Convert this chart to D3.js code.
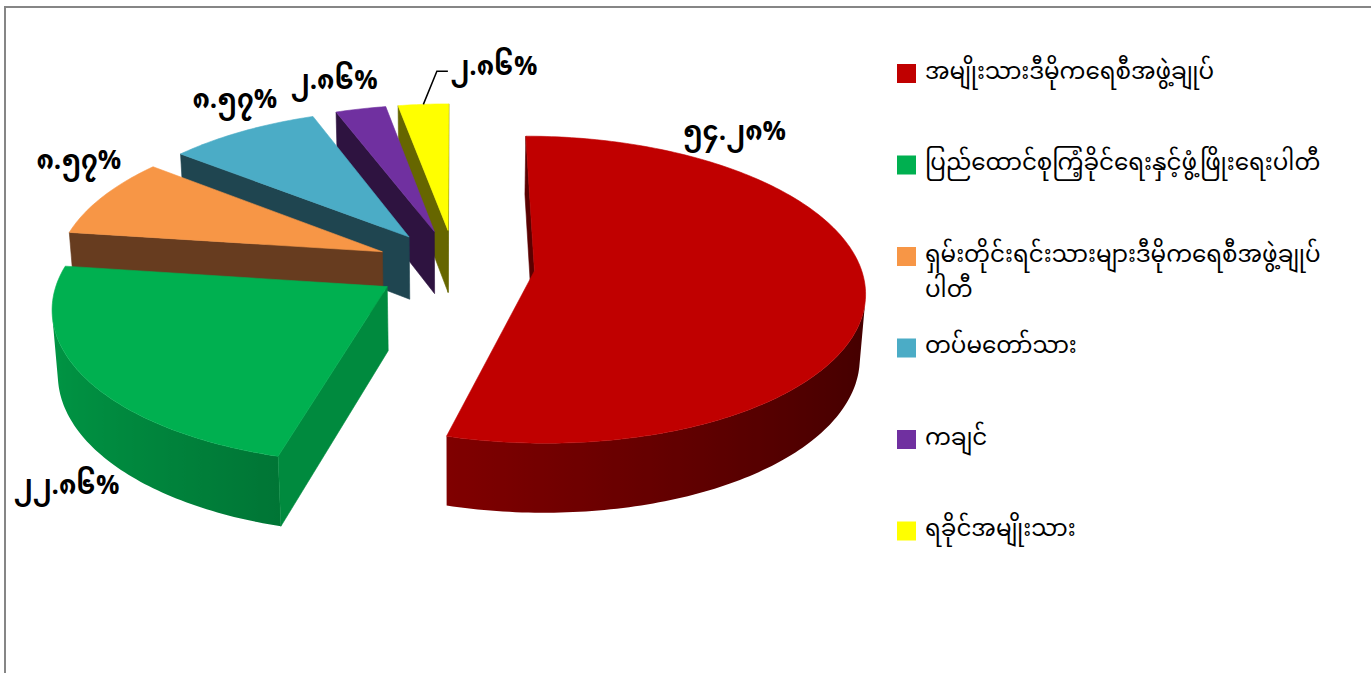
<!DOCTYPE html>
<html>
<head>
<meta charset="utf-8">
<script src="https://cdn.jsdelivr.net/npm/d3@7"></script>
<style>
  html, body { margin: 0; padding: 0; background: #fff; }
  svg { display: block; }
  text { font-family: "Noto Sans Myanmar", "Myanmar Text", "Padauk", "Noto Sans", sans-serif; fill: #000; }
</style>
</head>
<body>
<svg id="chart" width="1371" height="673"></svg>
<script>
// Chart data
const categories = [
  "အမျိုးသားဒီမိုကရေစီအဖွဲ့ချုပ်",
  "ပြည်ထောင်စုကြံ့ခိုင်ရေးနှင့်ဖွံ့ဖြိုးရေးပါတီ",
  "ရှမ်းတိုင်းရင်းသားများဒီမိုကရေစီအဖွဲ့ချုပ်ပါတီ",
  "တပ်မတော်သား",
  "ကချင်",
  "ရခိုင်အမျိုးသား"
];
const values = [54.28, 22.86, 8.57, 8.57, 2.86, 2.86];

// Slice colours: top face and the flat cut faces
const colors = ["#C00000", "#00B050", "#F79646", "#4BACC6", "#7030A0", "#FFFF00"];
const cutColors = ["#5a0000", "#008a3e", "#673c1f", "#1f4550", "#2e1340", "#666600"];

// Label placement (angle in degrees from 12 o'clock, radius in pie radii)
const labelAngle = [35.2, 215.8, 302.2, 329.1, 342.8, 7.1];
const labelRadius = [1.243, 1.377, 1.221, 1.236, 1.25, 1.326];
const labelLeader = [false, false, false, false, false, true];

const svg = d3.select("#chart");
const defs = svg.append("defs");

// Chart border (runs off the right and bottom edges)
svg.append("path")
  .attr("d", "M5,673 L5,7 L1371,7")
  .attr("fill", "none")
  .attr("stroke", "#868686")
  .attr("stroke-width", 2);

// 3D projection settings
const S = 326, D = 7.3, H = 0.222, explode = 0.245;
const phi = 27.4 * Math.PI / 180;
const Cx = 455, Cy = 266;
const sinP = Math.sin(phi), cosP = Math.cos(phi);
const cam = [0, D * sinP, -D * cosP];

// X right, Y up, Z away from viewer
function proj(X, Y, Z) {
  const depth = D - Y * sinP + Z * cosP;
  const up = Y * cosP + Z * sinP;
  return [Cx + S * X * D / depth, Cy - S * up * D / depth];
}
function facing(n, p) {
  return n[0] * (cam[0] - p[0]) + n[1] * (cam[1] - p[1]) + n[2] * (cam[2] - p[2]) > 0;
}

const pie = d3.pie().sort(null).value(d => d);
const arcs = pie(values).map((a, i) => {
  const mid = (a.startAngle + a.endAngle) / 2;
  return { i, a0: a.startAngle, a1: a.endAngle, mid,
    ox: explode * Math.sin(mid), oz: explode * Math.cos(mid) };
});

const line = d3.line();
const g = svg.append("g");

// far slices first
const order = arcs.slice().sort((p, q) => q.oz + 0.5 * Math.cos(q.mid) - (p.oz + 0.5 * Math.cos(p.mid)));

order.forEach(s => {
  const sg = g.append("g");
  const base = d3.rgb(colors[s.i]);
  const pt = (t, r, y) => proj(s.ox + r * Math.sin(t), y, s.oz + r * Math.cos(t));
  const steps = Math.max(2, Math.ceil((s.a1 - s.a0) / (Math.PI / 180)));
  const ts = d3.range(steps + 1).map(k => s.a0 + (s.a1 - s.a0) * k / steps);

  // outer curved side: visible part as one shape with a horizontal gradient
  const vis = ts.filter(t => facing([Math.sin(t), 0, Math.cos(t)],
    [s.ox + Math.sin(t), -H / 2, s.oz + Math.cos(t)]));
  if (vis.length > 1) {
    const topPts = vis.map(t => pt(t, 1, 0));
    const botPts = vis.map(t => pt(t, 1, -H)).reverse();
    const xs = topPts.map(p => p[0]);
    const x1 = d3.min(xs), x2 = d3.max(xs);
    const gid = "side" + s.i;
    const grad = defs.append("linearGradient")
      .attr("id", gid)
      .attr("gradientUnits", "userSpaceOnUse")
      .attr("x1", x1).attr("x2", x2).attr("y1", 0).attr("y2", 0);
    vis.map((t, k) => ({ t, x: topPts[k][0] }))
      .sort((p, q) => p.x - q.x)
      .forEach(d => {
        const f = 0.6 - 0.25 * Math.sin(d.t);
        grad.append("stop")
          .attr("offset", x2 > x1 ? (d.x - x1) / (x2 - x1) : 0)
          .attr("stop-color", d3.rgb(base.r * f, base.g * f, base.b * f).formatHex());
      });
    sg.append("path")
      .attr("d", line(topPts.concat(botPts)) + "Z")
      .attr("fill", `url(#${gid})`);
  }

  // flat cut faces at both ends of the slice
  [[s.a0, s.a0 - Math.PI / 2], [s.a1, s.a1 + Math.PI / 2]].forEach(([t, na]) => {
    const n = [Math.sin(na), 0, Math.cos(na)];
    const p = [s.ox + 0.5 * Math.sin(t), -H / 2, s.oz + 0.5 * Math.cos(t)];
    if (!facing(n, p)) return;
    sg.append("path")
      .attr("d", line([pt(0, 0, 0), pt(t, 1, 0), pt(t, 1, -H), pt(0, 0, -H)]) + "Z")
      .attr("fill", cutColors[s.i]).attr("stroke", cutColors[s.i]).attr("stroke-width", 0.6);
  });

  // top face
  const top = [pt(0, 0, 0)].concat(ts.map(t => pt(t, 1, 0)));
  sg.append("path")
    .attr("d", line(top) + "Z")
    .attr("fill", colors[s.i]).attr("stroke", colors[s.i]).attr("stroke-width", 0.6);
});

// Data labels in Myanmar digits
const myDigits = "၀၁၂၃၄၅၆၇၈၉";
const toMy = str => str.replace(/[0-9]/g, d => myDigits[+d]);
const fmt = d3.format(".2f");

arcs.forEach(s => {
  const t = labelAngle[s.i] * Math.PI / 180;
  const r = labelRadius[s.i];
  const [lx, ly] = proj(s.ox + r * Math.sin(t), 0, s.oz + r * Math.cos(t));
  const txt = toMy(fmt(values[s.i])) + "%";
  if (labelLeader[s.i]) {
    const a = proj(s.ox + Math.sin(s.mid), 0, s.oz + Math.cos(s.mid));
    g.append("path")
      .attr("d", line([a, [lx - 57, ly + 2], [lx - 46, ly + 2]]))
      .attr("fill", "none").attr("stroke", "#000").attr("stroke-width", 1.5);
  }
  g.append("text")
    .attr("x", lx).attr("y", ly)
    .attr("text-anchor", "middle")
    .attr("dominant-baseline", "central")
    .style("font-size", "26px")
    .style("font-weight", "bold")
    .text(txt);
});

// Legend
const legend = svg.append("g").attr("transform", "translate(897,0)");
const maxW = 415;
const seg = new Intl.Segmenter("my", { granularity: "word" });
categories.forEach((name, i) => {
  const cy = 73.5 + i * 91.5;
  legend.append("rect")
    .attr("x", 0).attr("y", cy - 9.5)
    .attr("width", 19).attr("height", 19)
    .attr("fill", colors[i]);
  const text = legend.append("text")
    .attr("x", 28).attr("y", cy)
    .attr("dominant-baseline", "central")
    .style("font-size", "23px");
  // wrap on word boundaries if too long
  const words = Array.from(seg.segment(name), w => w.segment);
  let lineStr = "";
  const lines = [];
  const probe = text.append("tspan");
  words.forEach(w => {
    probe.text(lineStr + w);
    if (probe.node().getComputedTextLength() > maxW && lineStr) {
      lines.push(lineStr);
      lineStr = w;
    } else {
      lineStr += w;
    }
  });
  lines.push(lineStr);
  probe.remove();
  lines.forEach((l, j) => {
    text.append("tspan").attr("x", 28).attr("dy", j === 0 ? 0 : 35).text(l);
  });
});
</script>
</body>
</html>
